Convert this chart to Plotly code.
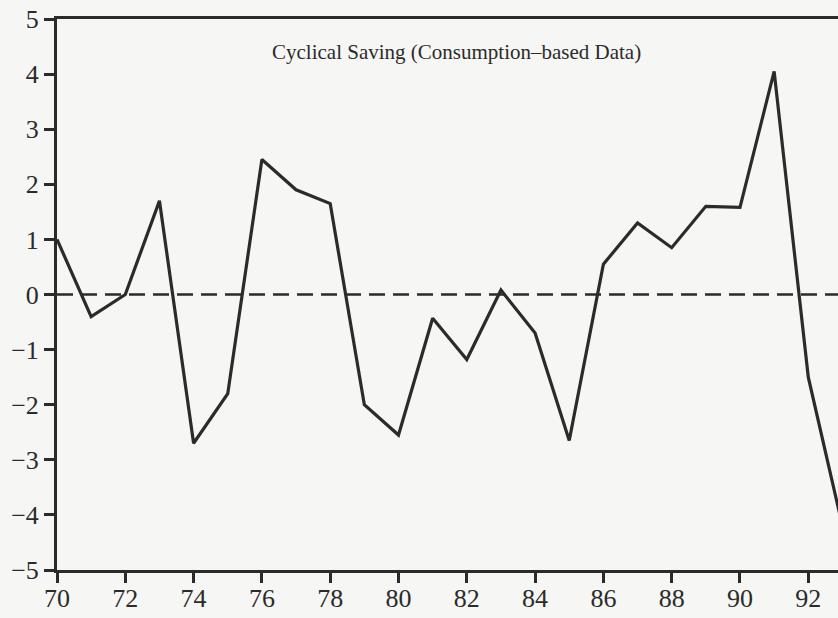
import plotly.graph_objects as go

years = list(range(70, 94))
saving = [1.0, -0.4, 0.0, 1.7, -2.7, -1.8, 2.45, 1.9, 1.65, -2.0, -2.55, -0.43,
          -1.18, 0.08, -0.7, -2.65, 0.55, 1.3, 0.85, 1.6, 1.58, 4.05, -1.5, -4.2]
x_ticks = [70, 72, 74, 76, 78, 80, 82, 84, 86, 88, 90, 92]
y_ticks = [-5, -4, -3, -2, -1, 0, 1, 2, 3, 4, 5]
title_text = "Cyclical Saving (Consumption\u2013based Data)"

ink = "#2b2b2b"
fig = go.Figure()
fig.add_trace(go.Scatter(x=[70, 94], y=[0, 0], mode="lines",
                         line=dict(color=ink, width=2.5, dash="16px,8px"),
                         showlegend=False, hoverinfo="skip"))
fig.add_trace(go.Scatter(x=years, y=saving, mode="lines",
                         line=dict(color=ink, width=3.2),
                         showlegend=False))

fig.add_annotation(text=title_text, xref="paper", yref="paper",
                   x=0.512, y=0.94, yanchor="middle", showarrow=False,
                   font=dict(family="Liberation Serif", size=21, color=ink))

fig.update_layout(
    width=838, height=618,
    margin=dict(l=57, r=0, t=19, b=48),
    paper_bgcolor="#f6f6f4", plot_bgcolor="#f6f6f4",
    font=dict(family="Liberation Serif", size=26, color=ink),
    xaxis=dict(range=[70, 92.87], tickvals=x_ticks, showgrid=False, zeroline=False,
               showline=True, linewidth=3, linecolor=ink, mirror=True,
               ticks="outside", ticklen=10, tickwidth=2.5, tickcolor=ink,
               ticklabelstandoff=-7, automargin=False),
    yaxis=dict(range=[-5, 5], tickvals=y_ticks, showgrid=False, zeroline=False,
               showline=True, linewidth=3, linecolor=ink, mirror=False,
               ticks="outside", ticklen=10, tickwidth=2.5, tickcolor=ink,
               automargin=False),
)
fig.write_html("out.html", config={"displayModeBar": False},
               post_script="document.body.style.margin='0';document.body.style.overflow='hidden';")
